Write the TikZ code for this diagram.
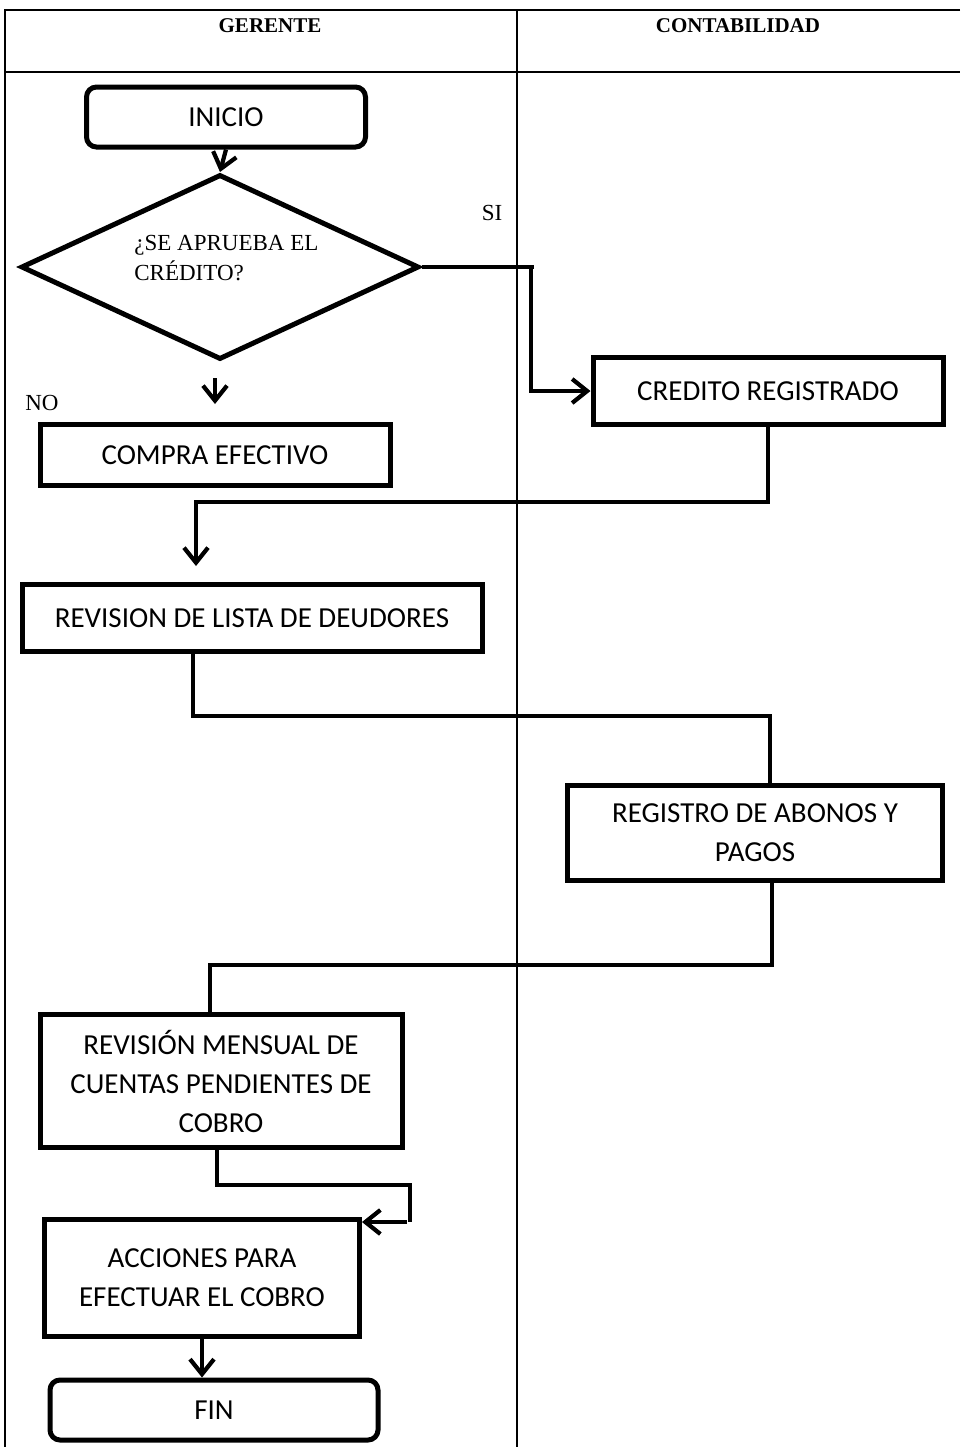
\documentclass[tikz,border=0pt]{standalone}
\usepackage{fontspec}
\setmainfont{Liberation Serif}
\newfontfamily\boxfont{Carlito}
\usetikzlibrary{arrows.meta,shapes.geometric,calc}

\tikzset{
  tbl/.style={line width=0.8pt, black},
  procbox/.style={draw, line width=2.5pt, inner sep=0pt, align=center,
    font=\boxfont\fontsize{14.5}{19.5}\selectfont},
  termbox/.style={procbox, rounded corners=5pt},
  decbox/.style={draw, diamond, line width=2.5pt, inner sep=0pt},
  conn/.style={line width=2.1pt},
  arr/.style={conn, -{Straight Barb[length=7.5pt,width=12pt,line width=2.1pt]}},
  hdr/.style={font=\bfseries\fontsize{10.5}{12}\selectfont},
  lbl/.style={font=\fontsize{11.5}{13}\selectfont}
}

\begin{document}
\begin{tikzpicture}[x=0.5pt,y=-0.5pt]
\useasboundingbox (0,0) rectangle (960,1447);

% swimlane table
\draw[tbl] (960,10) -- (5,10) -- (5,1447);
\draw[tbl] (5,72) -- (960,72);
\draw[tbl] (517,10) -- (517,1447);
\node[hdr] (hgerente) at (270,26) {GERENTE};
\node[hdr] (hconta) at (738,26) {CONTABILIDAD};

% process nodes
\node[termbox, minimum width=139.5pt, minimum height=30pt] (inicio) at (226,117) {INICIO};
\node[decbox, minimum width=199pt, minimum height=92.5pt] (dec) at (220,267) {};
\node[anchor=west, align=left, inner sep=0pt, font=\fontsize{11.5}{15}\selectfont]
  (dectext) at (134,258) {¿SE APRUEBA EL\\CRÉDITO?};
\node[procbox, minimum width=175pt, minimum height=30.5pt] (compra) at (215,455) {COMPRA EFECTIVO};
\node[procbox, minimum width=175pt, minimum height=33.5pt] (cred) at (768,391) {CREDITO REGISTRADO};
\node[procbox, minimum width=230pt, minimum height=33.5pt] (revlista) at (252,618) {REVISION DE LISTA DE DEUDORES};
\node[procbox, minimum width=187.5pt, minimum height=47.5pt] (registro) at (755,833) {REGISTRO DE ABONOS Y\\PAGOS};
\node[procbox, minimum width=181pt, minimum height=66.5pt] (revmensual) at (221,1081) {REVISIÓN MENSUAL DE\\CUENTAS PENDIENTES DE\\COBRO};
\node[procbox, minimum width=157.5pt, minimum height=58.5pt] (acciones) at (202,1278) {ACCIONES PARA\\EFECTUAR EL COBRO};
\node[termbox, minimum width=164pt, minimum height=30pt] (fin) at (214,1410) {FIN};

% branch labels
\node[lbl] (si) at (492,213) {SI};
\node[lbl] (no) at (42,403) {NO};

% turning points of the connectors
\coordinate (siturn) at (531,267);
\coordinate (j1) at (196,502);
\coordinate (j2) at (193,716);
\coordinate (j3) at (770,716);
\coordinate (j4) at (772,965);
\coordinate (j5) at (210,965);
\coordinate (j6) at (217,1185);
\coordinate (j7) at (410,1185);
\coordinate (j8) at (410,1222);

% connectors
\draw[arr] (inicio.south) -- (dec.north);
\draw[conn] (dec.east) -- ($(siturn)+(3,0)$);
\draw[arr] (siturn) |- (cred.west);
\draw[arr, shorten <=8pt, shorten >=9pt] (dec.south -| compra.north) -- (compra.north);
\draw[arr, shorten >=8pt] (cred.south) |- (j1) -- (j1 |- revlista.north);
\draw[conn] (j2 |- revlista.south) -- (j2) -- (j3) -- (j3 |- registro.north);
\draw[conn] (j4 |- registro.south) -- (j4) -- (j5) -- (j5 |- revmensual.north);
\draw[conn] (j6 |- revmensual.south) -- (j6) -- (j7) -- (j8);
\draw[arr] ($(j8)+(-3,0)$) -- (acciones.north east |- j8);
\draw[arr] (acciones.south) -- (acciones.south |- fin.north);
\end{tikzpicture}
\end{document}
